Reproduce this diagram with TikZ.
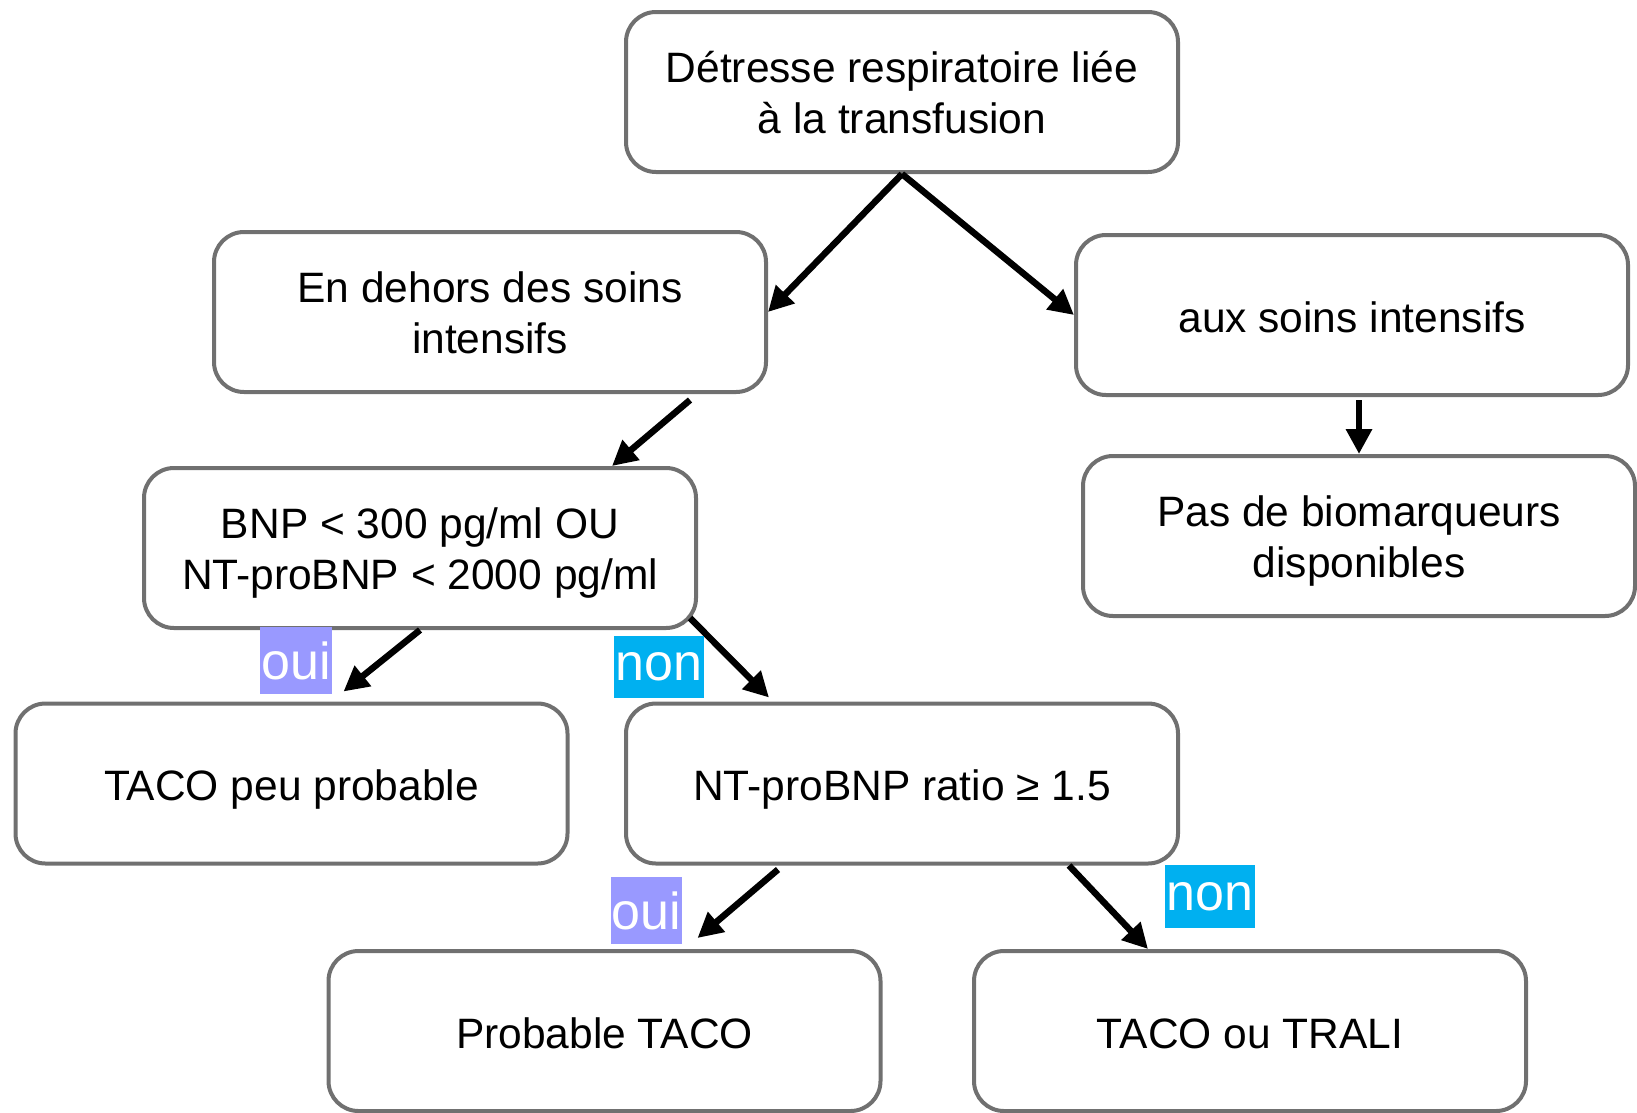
\documentclass[tikz,border=0pt]{standalone}
\usepackage{fontspec}
\setmainfont{Liberation Sans}
\usetikzlibrary{arrows.meta}
\definecolor{bordergray}{HTML}{707070}
\definecolor{ouicol}{HTML}{9999FF}
\definecolor{noncol}{HTML}{00B0F0}
\newcommand\twolines[2]{\raisebox{-1.5pt}[\height][\depth]{\begin{tabular}[t]{@{}c@{}}#1\\#2\end{tabular}}}
\begin{document}
\begin{tikzpicture}[x=1pt,y=-1pt,
  box/.style={draw=bordergray, line width=4pt, rounded corners=30pt, fill=white,
    minimum width=552pt, minimum height=160pt, inner sep=0pt,
    font=\fontsize{42.5pt}{51pt}\selectfont,
    execute at begin node={\rule{0pt}{44pt}},
    execute at end node={\rule[-10pt]{0pt}{0pt}}},
  arr/.style={-{Triangle[length=25pt,width=25pt]}, line width=6.5pt, black},
  lab/.style={text=white, inner sep=0pt, font=\fontsize{52pt}{52pt}\selectfont}]
\useasboundingbox (0,0) rectangle (1637,1112);

\node[box] (top)   at (902,92)    {\twolines{Détresse respiratoire liée}{à la transfusion}};
\node[box] (left)  at (490,312)   {\twolines{En dehors des soins}{intensifs}};
\node[box] (right) at (1352,315)  {aux soins intensifs};
\node[box] (bnp)   at (420,548)   {\twolines{BNP < 300 pg/ml OU}{NT-proBNP < 2000 pg/ml}};
\node[box] (pas)   at (1359,536)  {\twolines{Pas de biomarqueurs}{disponibles}};
\node[box] (peu)   at (291.5,783.5) {TACO peu probable};
\node[box] (ratio) at (902,783.5) {NT-proBNP ratio ≥ 1.5};
\node[box] (prob)  at (604.5,1031) {Probable TACO};
\node[box] (trali) at (1250,1031) {TACO ou TRALI};

\draw[arr] (top.south) -- (left.east);
\draw[arr] (top.south) -- (right.west);
\draw[arr] ([xshift=-78pt,yshift=-6pt]left.south east) -- ([xshift=-86pt]bnp.north east);
\draw[arr] ([yshift=-3pt]pas.north |- right.south) -- (pas.north);
\draw[arr] (bnp.south) -- ([xshift=52pt,yshift=10pt]peu.north);
\draw[arr] ([xshift=-8pt,yshift=12pt]bnp.south east) -- ([xshift=145pt,yshift=4pt]ratio.north west);
\draw[arr] ([xshift=-124pt,yshift=-4pt]ratio.south) -- ([xshift=93pt,yshift=11pt]prob.north);
\draw[arr] ([xshift=-111pt]ratio.south east) -- ([xshift=-102pt]trali.north);

\node[lab, fill=ouicol, minimum width=72pt, minimum height=67pt] (oui1) at (296,660.5) {oui};
\node[lab, fill=noncol, minimum width=90pt, minimum height=62pt] (non1) at (659,667) {non};
\node[lab, fill=ouicol, minimum width=71pt, minimum height=67pt] (oui2) at (646.5,910.5) {oui};
\node[lab, fill=noncol, minimum width=90pt, minimum height=63pt] (non2) at (1210,896.5) {non};
\end{tikzpicture}
\end{document}
